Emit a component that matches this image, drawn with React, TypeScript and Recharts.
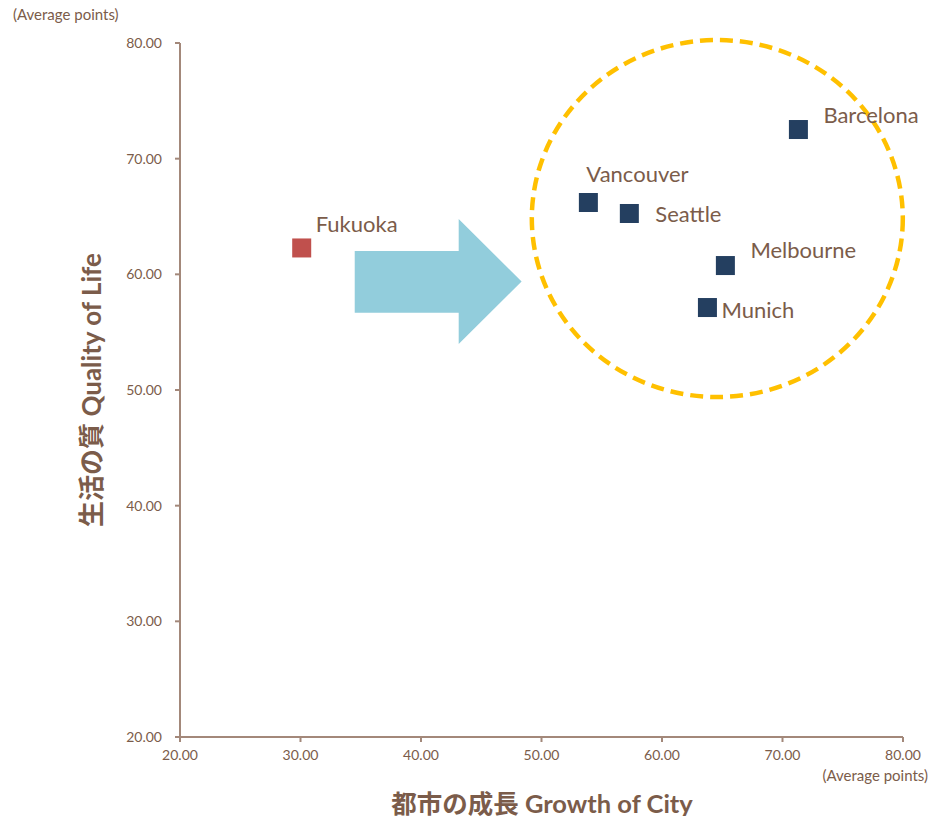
import { ReferenceArea, Scatter, ScatterChart, XAxis, YAxis } from "recharts";

// city scores (average points)
const focusCity = [{ name: "Fukuoka", growth: 30.1, quality: 62.28 }];

const peerCities = [
  { name: "Vancouver", growth: 53.89, quality: 66.21 },
  { name: "Seattle", growth: 57.29, quality: 65.26 },
  { name: "Barcelona", growth: 71.32, quality: 72.52 },
  { name: "Melbourne", growth: 65.26, quality: 60.76 },
  { name: "Munich", growth: 63.77, quality: 57.13 },
];

const xTicks = [20, 30, 40, 50, 60, 70, 80];
const yTicks = [20, 30, 40, 50, 60, 70, 80];

// annotation extents in data units
const arrowBox = { x1: 34.5, x2: 48.35, y1: 53.98, y2: 64.78 };
const ringBox = { x1: 49.03, x2: 80.15, y1: 49.22, y2: 80.43 };

// where each name sits relative to its marker
const labelOffsets: Record<string, [number, number]> = {
  Fukuoka: [14, -16],
  Vancouver: [-2, -21],
  Seattle: [26, 9],
  Barcelona: [25, -7],
  Melbourne: [25, -8],
  Munich: [14, 10],
};

const brown = "#7B5C4A";
const axisColor = "#A3887A";
const font = "Lato, 'Noto Sans CJK JP', sans-serif";

const squareShape = (color: string) => (props: any) => {
  const { cx, cy, payload } = props;
  const [dx, dy] = labelOffsets[payload.name] || [12, -12];
  return (
    <g>
      <rect x={cx - 9.5} y={cy - 9.5} width={19} height={19} fill={color} />
      <text x={cx + dx} y={cy + dy} fontSize={22} fill={brown} fontFamily={font}>
        {payload.name}
      </text>
    </g>
  );
};

const Arrow = (props: any) => {
  const { x, y, width: w, height: h } = props;
  const head = x + w * 0.623;
  const pts = [
    [x, y + h * 0.256],
    [head, y + h * 0.256],
    [head, y],
    [x + w, y + h / 2],
    [head, y + h],
    [head, y + h * 0.75],
    [x, y + h * 0.75],
  ]
    .map((p) => p.join(","))
    .join(" ");
  return <polygon points={pts} fill="#92CDDC" />;
};

const Ring = (props: any) => {
  const { x, y, width: w, height: h } = props;
  return (
    <ellipse
      cx={x + w / 2}
      cy={y + h / 2}
      rx={w / 2 - 2}
      ry={h / 2 - 2}
      fill="none"
      stroke="#FFC000"
      strokeWidth={4.5}
      strokeDasharray="13 7"
    />
  );
};

const tickStyle = { fontSize: 14, fill: brown, fontFamily: font };

export default function App() {
  return (
    <div style={{ position: "absolute", left: 0, top: 0, width: 931, height: 816, fontFamily: font }}>
      <ScatterChart width={931} height={816} margin={{ top: 43, right: 28, bottom: 49, left: 120 }}>
        <XAxis
          type="number"
          dataKey="growth"
          domain={[20, 80]}
          ticks={xTicks}
          tickFormatter={(v: number) => v.toFixed(2)}
          tick={tickStyle}
          tickSize={5}
          tickMargin={8}
          height={30}
          stroke={axisColor}
          strokeWidth={2}
        />
        <YAxis
          type="number"
          dataKey="quality"
          domain={[20, 80]}
          ticks={yTicks}
          tickFormatter={(v: number) => v.toFixed(2)}
          tick={tickStyle}
          tickSize={5}
          tickMargin={13}
          width={60}
          stroke={axisColor}
          strokeWidth={2}
        />
        <ReferenceArea {...arrowBox} ifOverflow="visible" shape={Arrow} />
        <Scatter data={focusCity} shape={squareShape("#C0504D")} isAnimationActive={false} />
        <Scatter data={peerCities} shape={squareShape("#243F60")} isAnimationActive={false} />
        <ReferenceArea {...ringBox} ifOverflow="visible" shape={Ring} />
      </ScatterChart>
      <div style={{ position: "absolute", left: 13, top: 5, fontSize: 15, color: brown }}>(Average points)</div>
      <div style={{ position: "absolute", right: 3, top: 766, fontSize: 15, color: brown }}>(Average points)</div>
      <div
        style={{
          position: "absolute",
          left: 542,
          top: 801,
          transform: "translate(-50%, -50%)",
          whiteSpace: "nowrap",
          fontSize: 25.5,
          fontWeight: 700,
          color: brown,
        }}
      >
        都市の成長 Growth of City
      </div>
      <div
        style={{
          position: "absolute",
          left: 89,
          top: 390,
          transform: "translate(-50%, -50%) rotate(-90deg)",
          whiteSpace: "nowrap",
          fontSize: 26,
          fontWeight: 700,
          color: brown,
        }}
      >
        生活の質 Quality of Life
      </div>
    </div>
  );
}
